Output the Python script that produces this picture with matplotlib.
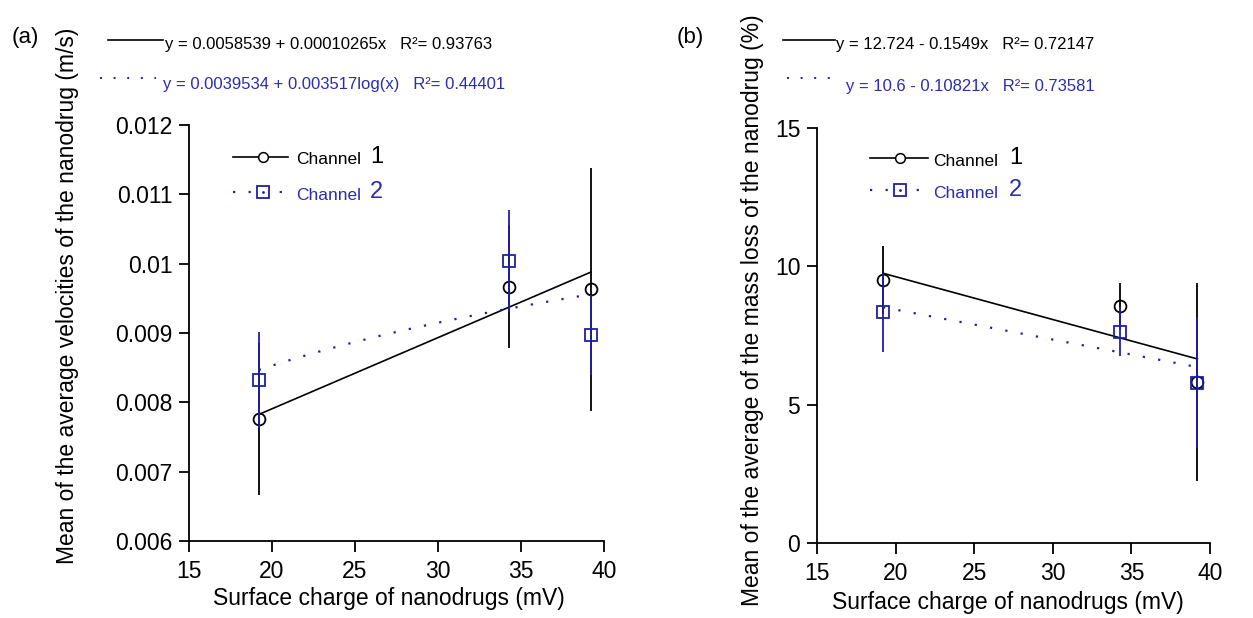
import numpy as np
import matplotlib
matplotlib.use("Agg")
import matplotlib.pyplot as plt
from matplotlib.lines import Line2D
from matplotlib import font_manager

# surface charge (mV) of the three nanodrugs
charge = [19.2, 34.3, 39.2]

# (a) mean velocity (m/s) and error
vel_ch1 = [0.00776, 0.00967, 0.00963]
vel_ch1_err = [0.00110, 0.00089, 0.00175]
vel_ch2 = [0.00832, 0.01004, 0.00897]
vel_ch2_err = [0.00069, 0.00074, 0.00058]

# (b) mean mass loss (%) and error
loss_ch1 = [9.50, 8.56, 5.83]
loss_ch1_err = [1.24, 0.82, 3.58]
loss_ch2 = [8.34, 7.64, 5.80]
loss_ch2_err = [1.43, 0.88, 2.36]

# regression fits
fit_a1 = (0.0058539, 0.00010265)        # linear
fit_a2 = (0.0039534, 0.003517)          # log10
fit_b1 = (12.724, -0.1549)
fit_b2 = (10.6, -0.10821)

eq_a1 = "y = 0.0058539 + 0.00010265x   R\u00b2= 0.93763"
eq_a2 = "y = 0.0039534 + 0.003517log(x)   R\u00b2= 0.44401"
eq_b1 = "y = 12.724 - 0.1549x   R\u00b2= 0.72147"
eq_b2 = "y = 10.6 - 0.10821x   R\u00b2= 0.73581"

xlabel = "Surface charge of nanodrugs (mV)"
ylabel_a = "Mean of the average velocities of the nanodrug (m/s)"
ylabel_b = "Mean of the average of the mass loss of the nanodrug (%)"

BLUE = "#2020a2"
TXTBLUE = "#2c2cae"

plt.rcParams['font.family'] = ['Liberation Sans', 'DejaVu Sans']
names = set(f.name for f in font_manager.fontManager.ttflist)
narrow = 'Liberation Sans Narrow' if 'Liberation Sans Narrow' in names else 'Liberation Sans'
eq_size = 14 if narrow != 'Liberation Sans' else 12

W, H = 1253, 618
fig = plt.figure(figsize=(W / 100, H / 100), dpi=100)


def px(x, y):
    return x / W, 1 - y / H


def make_axes(l, t, r, b):
    x0, y0 = px(l, b)
    x1, y1 = px(r, t)
    ax = fig.add_axes([x0, y0, x1 - x0, y1 - y0])
    for s in ['top', 'right']:
        ax.spines[s].set_visible(False)
    for s in ['left', 'bottom']:
        ax.spines[s].set_linewidth(1.3)
    ax.tick_params(axis='x', direction='out', length=8, width=1.3, labelsize=16.5, pad=6)
    ax.tick_params(axis='y', direction='out', length=7, width=1.3, labelsize=16.5, pad=5)
    ax.set_xlim(15, 40)
    ax.set_xticks([15, 20, 25, 30, 35, 40])
    return ax


def draw_panel(ax, y1, e1, y2, e2, f1, f2, logfit):
    xs = np.linspace(min(charge), max(charge), 50)
    ax.plot(xs, f1[0] + f1[1] * xs, color='black', lw=1.2, zorder=2)
    if logfit:
        yf = f2[0] + f2[1] * np.log10(xs)
    else:
        yf = f2[0] + f2[1] * xs
    ax.plot(xs, yf, color=BLUE, lw=1.6, linestyle=(0, (1, 6)), zorder=2)
    ax.errorbar(charge, y1, yerr=e1, fmt='o', color='black', mfc='none', mec='black',
                ms=8.5, mew=1.3, elinewidth=1.3, capsize=0, zorder=3)
    ax.errorbar(charge, y2, yerr=e2, fmt='s', color=BLUE, mfc='none', mec=BLUE,
                ms=8, mew=1.3, elinewidth=1.3, capsize=0, zorder=4)


def legend(x0, x1, xm, xt, xn, ya, yb):
    fig.add_artist(Line2D([px(x0, 0)[0], px(x1, 0)[0]], [px(0, ya)[1]] * 2, color='black', lw=1.2))
    fig.add_artist(Line2D([px(xm, 0)[0]], [px(0, ya)[1]], marker='o', ms=7, mfc='white',
                          mec='black', mew=1.1, color='black'))
    fig.add_artist(Line2D([px(x0, 0)[0], px(x1, 0)[0]], [px(0, yb)[1]] * 2, color=BLUE,
                          lw=1.6, linestyle=(0, (1, 6))))
    fig.add_artist(Line2D([px(xm, 0)[0]], [px(0, yb)[1]], marker='s', ms=8, mfc='white',
                          mec=BLUE, mew=1.3, color=BLUE))
    fig.add_artist(Line2D([px(xm, 0)[0]], [px(0, yb)[1]], marker='.', ms=2, color=BLUE))
    fig.text(*px(xt, ya + 3), "Channel", fontsize=12.5, va='center', ha='left')
    fig.text(*px(xn, ya), "1", fontsize=17, va='center', ha='left')
    fig.text(*px(xt, yb + 3), "Channel", fontsize=12.5, va='center', ha='left', color=TXTBLUE)
    fig.text(*px(xn, yb), "2", fontsize=17, va='center', ha='left', color=TXTBLUE)


# (a) velocity
ax1 = make_axes(189, 125, 604, 541)
ax1.set_ylim(0.006, 0.012)
ax1.set_yticks(np.arange(0.006, 0.01201, 0.001))
ax1.yaxis.set_major_formatter(matplotlib.ticker.FormatStrFormatter('%g'))
draw_panel(ax1, vel_ch1, vel_ch1_err, vel_ch2, vel_ch2_err, fit_a1, fit_a2, True)
fig.text(*px(389, 598), xlabel, fontsize=16.5, ha='center', va='center')
fig.text(*px(68, 296), ylabel_a, fontsize=16.5, ha='center', va='center', rotation=90)
legend(233, 288, 263, 296, 370, 157, 192)

# (b) mass loss
ax2 = make_axes(817, 128, 1210, 543)
ax2.set_ylim(0, 15)
ax2.set_yticks([0, 5, 10, 15])
draw_panel(ax2, loss_ch1, loss_ch1_err, loss_ch2, loss_ch2_err, fit_b1, fit_b2, False)
fig.text(*px(1008, 603), xlabel, fontsize=16.5, ha='center', va='center')
fig.text(*px(753, 310), ylabel_b, fontsize=16.5, ha='center', va='center', rotation=90)
legend(870, 928, 900, 933, 1009, 158, 190)

# panel tags and fit equations
fig.text(*px(12, 37), "(a)", fontsize=16, ha='left', va='center')
fig.text(*px(677, 37), "(b)", fontsize=16, ha='left', va='center')

fig.add_artist(Line2D([px(108, 0)[0], px(163, 0)[0]], [px(0, 40)[1]] * 2, color='black', lw=1.2))
fig.add_artist(Line2D([px(100, 0)[0], px(156, 0)[0]], [px(0, 78)[1]] * 2, color=BLUE,
                      lw=1.4, linestyle=(0, (1, 6))))
fig.text(*px(165, 44), eq_a1, fontsize=eq_size, family=narrow, ha='left', va='center')
fig.text(*px(163, 84), eq_a2, fontsize=eq_size, family=narrow, ha='left', va='center', color=TXTBLUE)

fig.add_artist(Line2D([px(783, 0)[0], px(835, 0)[0]], [px(0, 40)[1]] * 2, color='black', lw=1.2))
fig.add_artist(Line2D([px(787, 0)[0], px(833, 0)[0]], [px(0, 78)[1]] * 2, color=BLUE,
                      lw=1.4, linestyle=(0, (1, 6))))
fig.text(*px(836, 45), eq_b1, fontsize=eq_size, family=narrow, ha='left', va='center')
fig.text(*px(846, 86), eq_b2, fontsize=eq_size, family=narrow, ha='left', va='center', color=TXTBLUE)

fig.savefig("out.png", dpi=100)
